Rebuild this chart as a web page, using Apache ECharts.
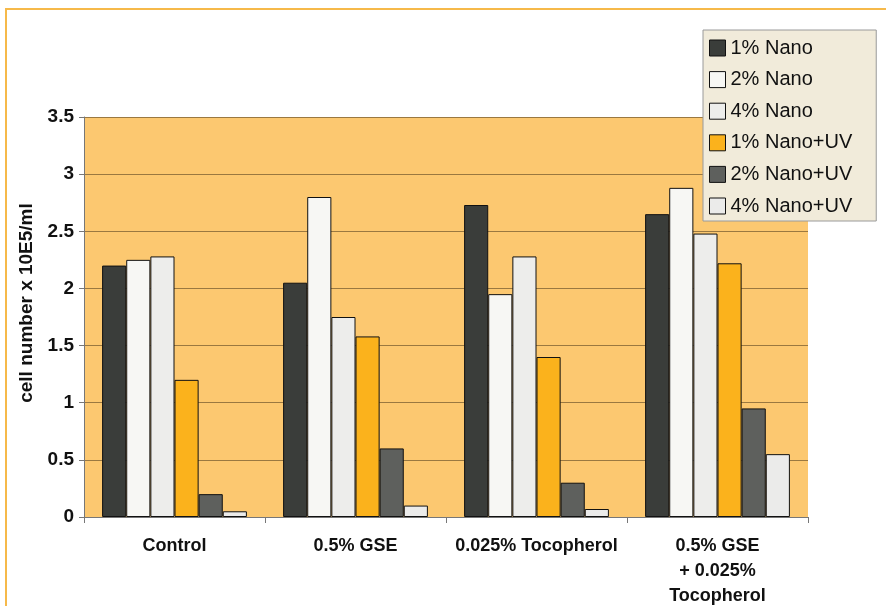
<!DOCTYPE html>
<html>
<head>
<meta charset="utf-8">
<script src="https://cdn.jsdelivr.net/npm/echarts@6/dist/echarts.min.js"></script>
<style>
  html, body { margin: 0; padding: 0; background: #fff; }
  #chart { width: 886px; height: 606px; }
</style>
</head>
<body>
<div id="chart"></div>
<script>
// categories and series values
const categories = ['Control', '0.5% GSE', '0.025% Tocopherol', '0.5% GSE\n+ 0.025%\nTocopherol']
const seriesNames = ['1% Nano', '2% Nano', '4% Nano', '1% Nano+UV', '2% Nano+UV', '4% Nano+UV']
const nano1 = [2.2, 2.05, 2.73, 2.65]
const nano2 = [2.25, 2.8, 1.95, 2.88]
const nano4 = [2.28, 1.75, 2.28, 2.48]
const nano1UV = [1.2, 1.58, 1.4, 2.22]
const nano2UV = [0.2, 0.6, 0.3, 0.95]
const nano4UV = [0.05, 0.1, 0.07, 0.55]
const yTicks = [0, 0.5, 1, 1.5, 2, 2.5, 3, 3.5]

const colors = ['#3a3d3a', '#f7f7f4', '#ededeb', '#fbb21c', '#5e605d', '#ebebea']
const values = [nano1, nano2, nano4, nano1UV, nano2UV, nano4UV]

const font = '"Liberation Sans", Arial, sans-serif'

const chart = echarts.init(document.getElementById('chart'))

const option = {
  backgroundColor: '#ffffff',
  animation: false,
  graphic: [{
    type: 'rect',
    shape: { x: 6, y: 9, width: 890, height: 610 },
    style: { fill: 'none', stroke: '#f6b94a', lineWidth: 2 },
    z: 0
  }],
  grid: {
    left: 84,
    right: 78,
    top: 117,
    bottom: 89,
    outerBoundsMode: 'none',
    containLabel: false,
    show: true,
    backgroundColor: '#fcc870',
    borderWidth: 0
  },
  legend: {
    data: seriesNames,
    orient: 'vertical',
    left: 703,
    top: 30,
    itemWidth: 16,
    itemHeight: 16,
    itemGap: 11.6,
    padding: [8, 24, 5, 6],
    backgroundColor: '#f1ebda',
    borderColor: '#9a9a9a',
    borderWidth: 1,
    icon: 'rect',
    itemStyle: { borderColor: '#111', borderWidth: 1 },
    textStyle: { fontFamily: font, fontSize: 20, lineHeight: 20, color: '#111' },
    z: 10
  },
  xAxis: {
    type: 'category',
    data: categories,
    axisLine: { show: true, lineStyle: { color: '#777', width: 1 } },
    axisTick: { show: true, interval: 0, length: 6, lineStyle: { color: '#777' } },
    axisLabel: {
      interval: 0,
      fontFamily: font,
      fontWeight: 'bold',
      fontSize: 18,
      color: '#111',
      margin: 17,
      lineHeight: 25
    }
  },
  yAxis: {
    type: 'value',
    min: 0,
    max: 3.5,
    interval: 0.5,
    name: 'cell number x 10E5/ml',
    nameLocation: 'middle',
    nameGap: 40,
    nameTextStyle: { fontFamily: font, fontWeight: 'bold', fontSize: 19, color: '#111', padding: [0, 0, 0, 28] },
    axisLine: { show: true, lineStyle: { color: '#777', width: 1 } },
    axisTick: { show: true, length: 5, lineStyle: { color: '#777' } },
    axisLabel: {
      fontFamily: font,
      fontWeight: 'bold',
      fontSize: 19,
      color: '#111',
      margin: 10,
      formatter: v => (yTicks.includes(v) ? String(v) : '')
    },
    splitLine: { show: true, lineStyle: { color: '#9a7840', width: 1 } }
  },
  series: values.map((d, i) => ({
    name: seriesNames[i],
    type: 'bar',
    data: d,
    barGap: '0%',
    barCategoryGap: '20%',
    itemStyle: { color: colors[i], borderColor: '#111', borderWidth: 1 }
  }))
}

chart.setOption(option)
</script>
</body>
</html>
